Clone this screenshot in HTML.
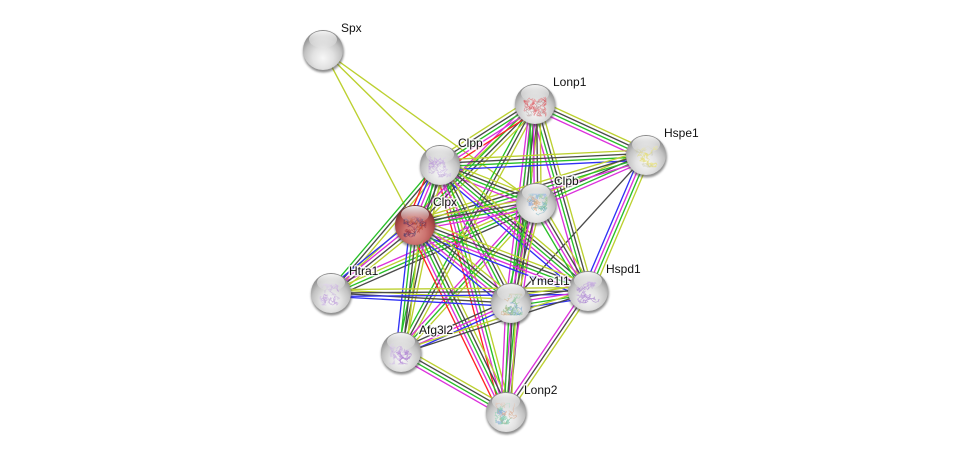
<!DOCTYPE html>
<html>
<head>
<meta charset="utf-8">
<style>
html,body{margin:0;padding:0;background:#fff;width:976px;height:457px;overflow:hidden}
svg{display:block}
text{font-family:"Liberation Sans",sans-serif;font-size:12px;fill:#111;stroke:#fff;stroke-width:3px;stroke-opacity:.8;paint-order:stroke;stroke-linejoin:round}
</style>
</head>
<body>
<svg id="s" xmlns="http://www.w3.org/2000/svg" width="976" height="457" viewBox="0 0 976 457">
<defs>
<radialGradient id="g" cx="50%" cy="70%" r="65%">
<stop offset="0" stop-color="#f7f7f7"/><stop offset=".4" stop-color="#e2e2e2"/><stop offset=".72" stop-color="#c2c2c2"/><stop offset="1" stop-color="#8a8a8a"/>
</radialGradient>
<radialGradient id="r" cx="50%" cy="70%" r="65%">
<stop offset="0" stop-color="#dc938c"/><stop offset=".4" stop-color="#cc7470"/><stop offset=".72" stop-color="#b04e4c"/><stop offset="1" stop-color="#702c2c"/>
</radialGradient>
<linearGradient id="h" x1="0" y1="0" x2="0" y2="1">
<stop offset="0" stop-color="#fff" stop-opacity=".92"/><stop offset="1" stop-color="#fff" stop-opacity=".05"/>
</linearGradient>
<filter id="b" x="-30%" y="-30%" width="160%" height="160%"><feGaussianBlur stdDeviation="1"/></filter>
</defs>
<g id="edges" fill="none" stroke-width="1.35"></g>
<g id="nodes"></g>
<text x="341" y="32">Spx</text>
<text x="553" y="86">Lonp1</text>
<text x="664" y="137">Hspe1</text>
<text x="458" y="147">Clpp</text>
<text x="554" y="185">Clpb</text>
<text x="433" y="206">Clpx</text>
<text x="349" y="275">Htra1</text>
<text x="606" y="273">Hspd1</text>
<text x="529" y="285">Yme1l1</text>
<text x="419" y="334">Afg3l2</text>
<text x="524" y="394">Lonp2</text>
</svg>
<script>
var P={Spx:[323,50],Lonp1:[535,104],Hspe1:[646,155],Clpp:[440,165],Clpb:[536,203],Clpx:[415,225],Htra1:[331,293],Hspd1:[588,291],Yme:[511,303],Afg:[401,352],Lonp2:[506,412]};
var C={r:"#ff2424",b:"#3030f5",g:"#28bf28",m:"#dc30dc",d:"#4a4a4a",y:"#bcd030"};
var E=[
["Spx","Clpx","y"],["Spx","Clpp","y"],["Spx","Clpb","y"],
["Hspe1","Yme","d"],["Lonp1","Htra1","y"],
["Lonp1","Afg","gdy"],["Clpp","Afg","gdy"],["Clpb","Afg","mgy"],["Clpp","Htra1","gdy"],["Clpb","Htra1","dgym"],
["Lonp1","Lonp2","mgd"],["Clpp","Lonp2","rmgy"],["Clpb","Lonp2","m"],["Clpx","Lonp2","rmgdy"],
["Lonp1","Hspd1","mgdy"],["Lonp1","Yme","mgdy"],["Lonp1","Clpb","gmdy"],["Lonp1","Clpx","mgdy"],["Lonp1","Clpp","rmgdy"],["Lonp1","Hspe1","mgdy"],
["Hspe1","Clpp","bgdy"],["Hspe1","Clpb","mgdy"],["Hspe1","Clpx","mgdy"],["Hspe1","Hspd1","bmgy"],
["Clpp","Clpb","mgdy"],["Clpp","Clpx","rbmgdy"],["Clpp","Hspd1","bmgdy"],["Clpp","Yme","mgdy"],
["Clpb","Clpx","mgdy"],["Clpb","Hspd1","gmdy"],["Clpb","Yme","gmdy"],
["Clpx","Htra1","bmdy"],["Clpx","Hspd1","bmgdy"],["Clpx","Yme","bmgdy"],["Clpx","Afg","bgdy"],
["Htra1","Yme","bdy"],["Htra1","Hspd1","bdy"],
["Yme","Hspd1","bgmdy"],["Yme","Afg","bmd"],["Yme","Lonp2","mgdy"],
["Hspd1","Afg","dy"],["Hspd1","Lonp2","mdy"],["Afg","Lonp2","mgdy"]
];
var NS="http://www.w3.org/2000/svg",eg=document.getElementById("edges"),ng=document.getElementById("nodes");
function el(t,a,p){var e=document.createElementNS(NS,t);for(var k in a)e.setAttribute(k,a[k]);p.appendChild(e);return e}
E.forEach(function(x){
 var a=P[x[0]],b=P[x[1]],dx=b[0]-a[0],dy=b[1]-a[1],L=Math.hypot(dx,dy),nx=dy/L,ny=-dx/L;
 if(Math.abs(dy)<0.7*Math.abs(dx)){if(ny>0){nx=-nx;ny=-ny}}
 else if(nx<0){nx=-nx;ny=-ny}
 var n=x[2].length;
 for(var i=0;i<n;i++){var o=(i-(n-1)/2)*3.4;
  el("line",{x1:a[0]+nx*o,y1:a[1]+ny*o,x2:b[0]+nx*o,y2:b[1]+ny*o,stroke:C[x[2][i]]},eg)}
});
var seed=11;function R(){seed=(seed*16807)%2147483647;return seed/2147483647}
var S={Lonp1:["#e0484e","#e8686e","#d85058","#b8a0a0"],Hspe1:["#e8e050","#e0d880","#c8c8b0"],Clpp:["#b58ad8","#cdb4e6","#c0a8d8"],Clpb:["#5a8ad8","#7bc47b","#d8a070","#70b0c0"],Clpx:["#7a2a5a","#3a3a6a","#a02830","#c05030"],Htra1:["#b58ad8","#cdb4e6","#c8b8d8"],Hspd1:["#9a6cc8","#b890dc","#a880d0"],Yme:["#7bbf8a","#c8a070","#70a0d0","#90c090"],Afg:["#b58ad8","#cdb4e6","#a878d0"],Lonp2:["#70c0a0","#80a8d8","#d8a080","#88d0b0"]};
for(var k in P){var p=P[k],x=p[0],y=p[1],red=k=="Clpx";
 el("circle",{cx:x+.5,cy:y+2,r:20.5,fill:"#444",opacity:.6,filter:"url(#b)"},ng);
 el("circle",{cx:x,cy:y,r:20,fill:red?"url(#r)":"url(#g)"},ng);
 if(S[k]){S[k].forEach(function(c){
  for(var q=0;q<3;q++){
   var px=x+(R()-.5)*14,py=y+2+(R()-.5)*16,d="M"+px.toFixed(1)+" "+py.toFixed(1);
   for(var i=0;i<22;i++){px=Math.max(x-11,Math.min(x+11,px+(R()-.5)*6));py=Math.max(y-9,Math.min(y+12,py+(R()-.5)*6));d+="L"+px.toFixed(1)+" "+py.toFixed(1)}
   el("path",{d:d,fill:"none",stroke:c,"stroke-width":.6,opacity:.62},ng);
  }
 })}
 el("ellipse",{cx:x,cy:y-10.5,rx:14,ry:8.5,fill:"url(#h)"},ng);
}
</script>
</body>
</html>
